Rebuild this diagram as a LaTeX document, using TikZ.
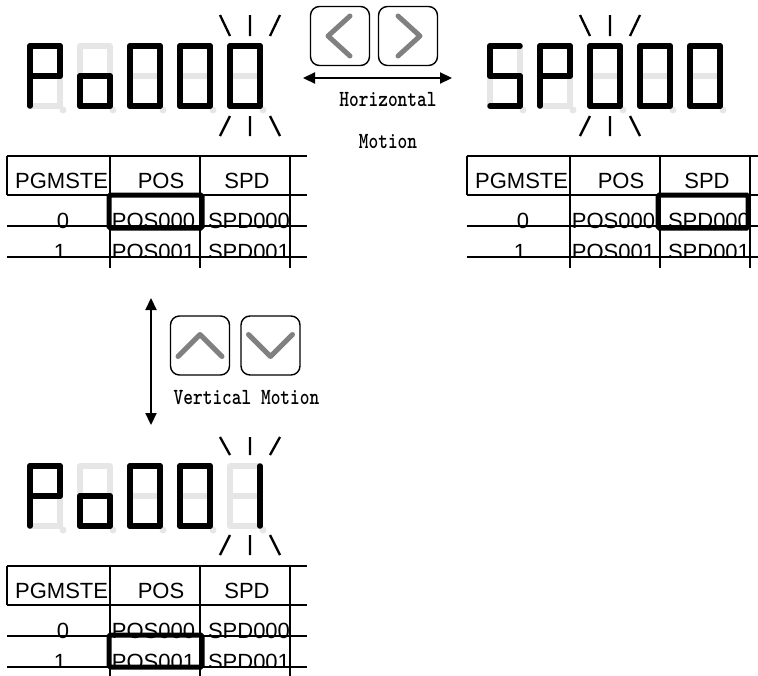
\documentclass[tikz,border=0pt]{standalone}
\usepackage{fontspec}
\usepackage{graphicx}
\usetikzlibrary{arrows.meta}
\newfontfamily\tabfont{Liberation Sans}
\definecolor{segoffc}{RGB}{230,230,230}
\definecolor{chevc}{RGB}{128,128,128}
\newcommand\sdig[3]{% #1 x, #2 y, #3 lit segments
 \begin{scope}[shift={(#1,#2)}]
  \draw[segoff] (0,0) rectangle (30,60) (0,30) -- (30,30);
  \fill[segoffc] (33,64) circle[radius=3.5];
  \coordinate (qa1) at (0,0);   \coordinate (qa2) at (30,0);
  \coordinate (qb1) at (30,0);  \coordinate (qb2) at (30,30);
  \coordinate (qc1) at (30,30); \coordinate (qc2) at (30,60);
  \coordinate (qd1) at (0,60);  \coordinate (qd2) at (30,60);
  \coordinate (qe1) at (0,30);  \coordinate (qe2) at (0,60);
  \coordinate (qf1) at (0,0);   \coordinate (qf2) at (0,30);
  \coordinate (qg1) at (0,30);  \coordinate (qg2) at (30,30);
  \foreach \s in {#3}{\draw[segon] (q\s1) -- (q\s2);}
 \end{scope}}
\newcommand\blink[4]{% #1 center x, #2 top y of upper rays, #3 top y of lower rays, #4 ray height
  \draw[blinkl] (#1-30,#2) -- (#1-20,#2+#4) (#1,#2) -- (#1,#2+#4) (#1+30,#2) -- (#1+20,#2+#4);
  \draw[blinkl] (#1-20,#3) -- (#1-30,#3+20) (#1,#3) -- (#1,#3+20) (#1+20,#3) -- (#1+30,#3+20);}
\newcommand\ptable[4]{% #1 x0, #2 y0, #3 right end, #4 prefix
 \begin{scope}[shift={(#1,#2)}]
  \begin{scope}
   \clip (0,0) rectangle (#3,101);
   \node[tcell,anchor=base west] (#4h1) at (8,32) {PGMSTE};
   \node[tcell] (#4h2) at (154,32) {POS};
   \node[tcell] (#4h3) at (240,32) {SPD};
   \node[tcell] (#4a1) at (56,72.5) {0};
   \node[tcell] (#4a2) at (146.5,72.5) {POS000};
   \node[tcell] (#4a3) at (242,72.5) {SPD000};
   \node[tcell] (#4b1) at (53,103) {1};
   \node[tcell] (#4b2) at (146.5,103) {POS001};
   \node[tcell] (#4b3) at (242,103) {SPD001};
  \end{scope}
  \draw[tline] (0,0) -- (#3,0) (0,39) -- (#3,39) (0,70) -- (#3,70) (0,101) -- (#3,101)
    (0,0) -- (0,39) (103,0) -- (103,112) (193,0) -- (193,112) (283,0) -- (283,112);
 \end{scope}}
\begin{document}
\begin{tikzpicture}[x=1pt,y=-1pt,
  segon/.style={line width=5.5pt, line cap=round, line join=round, black},
  segoff/.style={line width=5.5pt, line cap=round, line join=round, segoffc},
  blinkl/.style={line width=2.3pt, black},
  tline/.style={line width=2.2pt, black},
  tcell/.style={font=\tabfont\fontsize{22}{24}\selectfont, anchor=base, inner sep=0pt},
  hlbox/.style={line width=5pt, black, rounded corners=1.5pt},
  btn/.style={draw, line width=1.4pt, rounded corners=9pt, minimum width=59pt, minimum height=59pt, inner sep=0pt},
  chev/.style={line width=5pt, chevc, line cap=round, line join=round},
  dbl/.style={line width=2.2pt, {Triangle[length=12pt,width=11pt]}-{Triangle[length=12pt,width=11pt]}},
  lbl/.style={font=\ttfamily\bfseries\fontsize{18.5}{20}\selectfont, inner sep=0pt}]
\useasboundingbox (0,0) rectangle (758,675);
% top-left display Po000
\sdig{30}{46}{a,b,e,f,g}
\sdig{80}{46}{c,d,e,g}
\sdig{130}{46}{a,b,c,d,e,f}
\sdig{180}{46}{a,b,c,d,e,f}
\sdig{230}{46}{a,b,c,d,e,f}
\blink{250}{15}{116}{21}
% top-right display SP000
\sdig{490}{46}{a,c,d,f,g}
\sdig{540}{46}{a,b,e,f,g}
\sdig{590}{46}{a,b,c,d,e,f}
\sdig{640}{46}{a,b,c,d,e,f}
\sdig{690}{46}{a,b,c,d,e,f}
\blink{610}{15}{116}{21}
% bottom display Po001
\sdig{30}{466}{a,b,e,f,g}
\sdig{80}{466}{c,d,e,g}
\sdig{130}{466}{a,b,c,d,e,f}
\sdig{180}{466}{a,b,c,d,e,f}
\sdig{230}{466}{b,c}
\blink{250}{437}{535}{18}
% left / right buttons
\node[btn] (bleft) at (340,36) {};
\node[btn] (bright) at (408,36) {};
\draw[chev] ([shift={(10,-20)}]bleft.center) -- ([shift={(-12,0)}]bleft.center) -- ([shift={(10,20)}]bleft.center);
\draw[chev] ([shift={(-10,-20)}]bright.center) -- ([shift={(12,0)}]bright.center) -- ([shift={(-10,20)}]bright.center);
\coordinate (hL) at (303,78);
\coordinate (hR) at (452,78);
\draw[dbl] (hL) -- (hR);
\node[lbl] (thor) at (388,100) {\scalebox{1}[1.25]{Horizontal}};
\node[lbl] (tmot) at (388,142) {\scalebox{1}[1.25]{Motion}};
% up / down buttons
\node[btn] (bup) at (200,345.5) {};
\node[btn] (bdown) at (270.5,345.5) {};
\draw[chev] ([shift={(-22,11)}]bup.center) -- ([shift={(0,-11)}]bup.center) -- ([shift={(22,11)}]bup.center);
\draw[chev] ([shift={(-22,-11)}]bdown.center) -- ([shift={(0,11)}]bdown.center) -- ([shift={(22,-11)}]bdown.center);
\coordinate (vT) at (151,298);
\coordinate (vB) at (151,425);
\draw[dbl] (vT) -- (vB);
\node[lbl] (tvert) at (246.5,398) {\scalebox{1}[1.25]{Vertical Motion}};
% tables
\ptable{7}{156}{300}{L}
\ptable{467}{156}{291}{R}
\ptable{7}{566}{300}{B}
\draw[hlbox] (109,195) rectangle (202,228);
\draw[hlbox] (658,195) rectangle (748,228);
\draw[hlbox] (109,635) rectangle (202,667);
\end{tikzpicture}
\end{document}
